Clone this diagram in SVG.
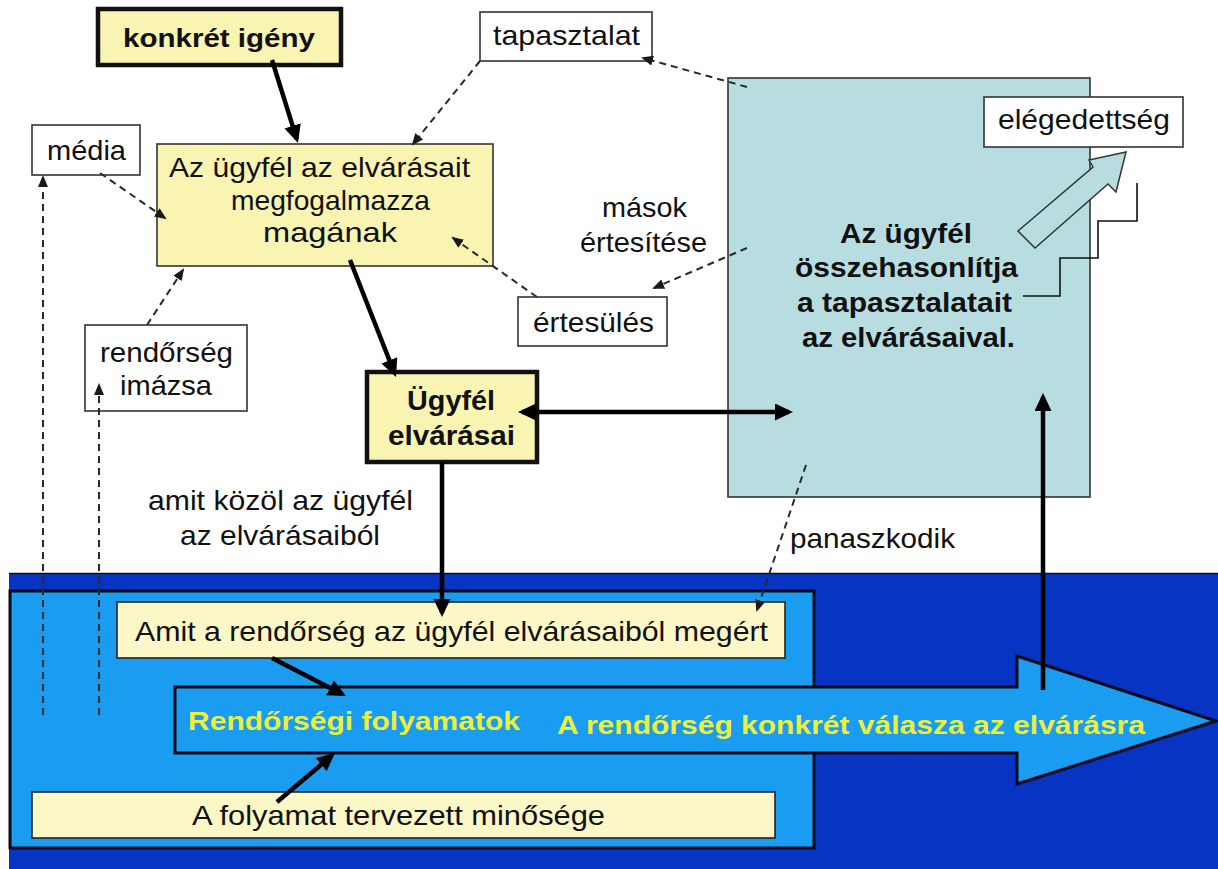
<svg xmlns="http://www.w3.org/2000/svg" width="1218" height="869" viewBox="0 0 1218 869">
<style>
text{font-family:"Liberation Sans",Arial,sans-serif;fill:#111}
.r{font-size:28px}
.b{font-size:27px;font-weight:bold}
.y{font-size:25px;font-weight:bold;fill:#ecf03a}
.box{fill:#fff;stroke:#333;stroke-width:1.6}
.yel{fill:#f9f4b2;stroke:#333;stroke-width:1.6}
.yelb{fill:#f9f4b2;stroke:#111;stroke-width:4.5}
.pale{fill:#fbf7c6;stroke:#222;stroke-width:1.6}
.dash{fill:none;stroke:#2a2a2a;stroke-width:2;stroke-dasharray:7 5;marker-end:url(#ah)}
.thick{fill:none;stroke:#000;stroke-width:4.5;marker-end:url(#AH)}
</style>
<defs>
<marker id="ah" markerUnits="userSpaceOnUse" markerWidth="13" markerHeight="11" refX="10" refY="5" orient="auto"><path d="M0,0 L12,5 L0,10 z" fill="#1a1a1a"/></marker>
<marker id="AH" markerUnits="userSpaceOnUse" markerWidth="20" markerHeight="18" refX="14" refY="8.5" orient="auto-start-reverse"><path d="M0,0 L18,8.5 L0,17 z" fill="#000"/></marker>
</defs>
<rect x="0" y="0" width="1218" height="869" fill="#fff"/>

<g id="band">
<rect x="9" y="573" width="1209" height="296" fill="#0834c4"/>
<line x1="9" y1="573.5" x2="1218" y2="573.5" stroke="#111" stroke-width="1.5"/>
</g>
<g id="frame">
<rect x="10" y="591" width="804" height="257" fill="#1a9cf0" stroke="#0a0a1a" stroke-width="3"/>
</g>
<g id="megert">
<rect class="pale" x="117" y="602" width="668" height="56"/>
<text class="r" x="135" y="641" textLength="633" lengthAdjust="spacingAndGlyphs">Amit a rendőrség az ügyfél elvárásaiból megért</text>
</g>
<g id="minoseg">
<rect class="pale" x="32" y="792" width="743" height="46"/>
<text class="r" x="192" y="825" textLength="413" lengthAdjust="spacingAndGlyphs">A folyamat tervezett minősége</text>
</g>
<g id="bigarrow">
<path d="M175,687 L1017,687 L1017,656 L1216,721 L1017,784 L1017,753 L175,753 Z" fill="#1a9cf0" stroke="#0a0a1a" stroke-width="3" stroke-linejoin="miter"/>
<text class="y" x="188" y="730" textLength="332" lengthAdjust="spacingAndGlyphs">Rendőrségi folyamatok</text>
<text class="y" x="557" y="734" textLength="588" lengthAdjust="spacingAndGlyphs">A rendőrség konkrét válasza az elvárásra</text>
</g>

<g id="compare">
<rect x="728" y="78" width="362" height="419" fill="#b8dde1" stroke="#333" stroke-width="1.6"/>
<text class="b" x="840" y="243" textLength="132" lengthAdjust="spacingAndGlyphs">Az ügyfél</text>
<text class="b" x="795" y="277" textLength="223" lengthAdjust="spacingAndGlyphs">összehasonlítja</text>
<text class="b" x="797" y="312" textLength="215" lengthAdjust="spacingAndGlyphs">a tapasztalatait</text>
<text class="b" x="802" y="347" textLength="213" lengthAdjust="spacingAndGlyphs">az elvárásaival.</text>
</g>
<g id="elegedettseg">
<rect class="box" x="984" y="97" width="199" height="50"/>
<text class="r" x="998" y="129" textLength="172" lengthAdjust="spacingAndGlyphs">elégedettség</text>
</g>
<g id="blockarrow">
<path d="M1018,231 L1093,167 L1089,160 L1126,152 L1116,192 L1108,184 L1035,248 Z" fill="#b8dde1" stroke="#333" stroke-width="1.5" stroke-linejoin="miter"/>
</g>
<g id="steps">
<path d="M1023,296 L1060,296 L1060,258 L1098,258 L1098,221 L1137,221 L1137,183" fill="none" stroke="#111" stroke-width="1.6"/>
</g>

<g id="konkret">
<rect class="yelb" x="98" y="9" width="243" height="56"/>
<text class="b" style="font-size:26px" x="123" y="47" textLength="192" lengthAdjust="spacingAndGlyphs">konkrét igény</text>
</g>
<g id="megfogalmazza">
<rect class="yel" x="157" y="144" width="336" height="122"/>
<text class="r" x="169" y="177" textLength="301" lengthAdjust="spacingAndGlyphs">Az ügyfél az elvárásait</text>
<text class="r" x="231" y="210" textLength="199" lengthAdjust="spacingAndGlyphs">megfogalmazza</text>
<text class="r" x="263" y="242" textLength="134" lengthAdjust="spacingAndGlyphs">magának</text>
</g>
<g id="media">
<rect class="box" x="32" y="125" width="108" height="50"/>
<text class="r" x="47" y="160" textLength="79" lengthAdjust="spacingAndGlyphs">média</text>
</g>
<g id="tapasztalat">
<rect class="box" x="480" y="12" width="172" height="49"/>
<text class="r" x="493" y="45" textLength="147" lengthAdjust="spacingAndGlyphs">tapasztalat</text>
</g>
<g id="ertesules">
<rect class="box" x="518" y="297" width="149" height="49"/>
<text class="r" x="533" y="332" textLength="121" lengthAdjust="spacingAndGlyphs">értesülés</text>
</g>
<g id="imazs">
<rect class="box" x="85" y="325" width="162" height="86"/>
<text class="r" x="100" y="362" textLength="133" lengthAdjust="spacingAndGlyphs">rendőrség</text>
<text class="r" x="120" y="395" textLength="92" lengthAdjust="spacingAndGlyphs">imázsa</text>
</g>
<g id="elvarasai">
<rect class="yelb" x="367" y="372" width="170" height="90"/>
<text class="b" x="407" y="410" textLength="88" lengthAdjust="spacingAndGlyphs">Ügyfél</text>
<text class="b" x="388" y="445" textLength="127" lengthAdjust="spacingAndGlyphs">elvárásai</text>
</g>
<g id="labels">
<text class="r" x="602" y="217" textLength="85" lengthAdjust="spacingAndGlyphs">mások</text>
<text class="r" x="580" y="252" textLength="127" lengthAdjust="spacingAndGlyphs">értesítése</text>
<text class="r" x="148" y="510" textLength="265" lengthAdjust="spacingAndGlyphs">amit közöl az ügyfél</text>
<text class="r" x="180" y="545" textLength="200" lengthAdjust="spacingAndGlyphs">az elvárásaiból</text>
<text class="r" x="790" y="548" textLength="165" lengthAdjust="spacingAndGlyphs">panaszkodik</text>
</g>

<g id="connectors">
<line class="dash" x1="100" y1="173" x2="165" y2="218"/>
<line class="dash" x1="43" y1="715" x2="43" y2="177"/>
<line class="dash" x1="99" y1="715" x2="99" y2="385"/>
<line class="dash" x1="147" y1="325" x2="183" y2="270"/>
<line class="dash" x1="480" y1="61" x2="413" y2="144"/>
<line class="dash" x1="747" y1="87" x2="643" y2="58"/>
<line class="dash" x1="747" y1="248" x2="654" y2="288"/>
<line class="dash" x1="537" y1="297" x2="453" y2="238"/>
<line class="dash" x1="806" y1="465" x2="757" y2="610"/>
<line class="thick" x1="272" y1="60" x2="296.8" y2="139.2"/>
<line class="thick" x1="350" y1="260" x2="394.5" y2="373.3"/>
<line class="thick" x1="522" y1="412" x2="789" y2="412" style="marker-start:url(#AH)"/>
<line class="thick" x1="442" y1="462" x2="442" y2="613"/>
<line class="thick" x1="1043" y1="690" x2="1043" y2="397"/>
<line class="thick" x1="272" y1="658" x2="342.4" y2="694.2"/>
<line class="thick" x1="277" y1="802" x2="331.9" y2="755.6"/>
</g>
</svg>
